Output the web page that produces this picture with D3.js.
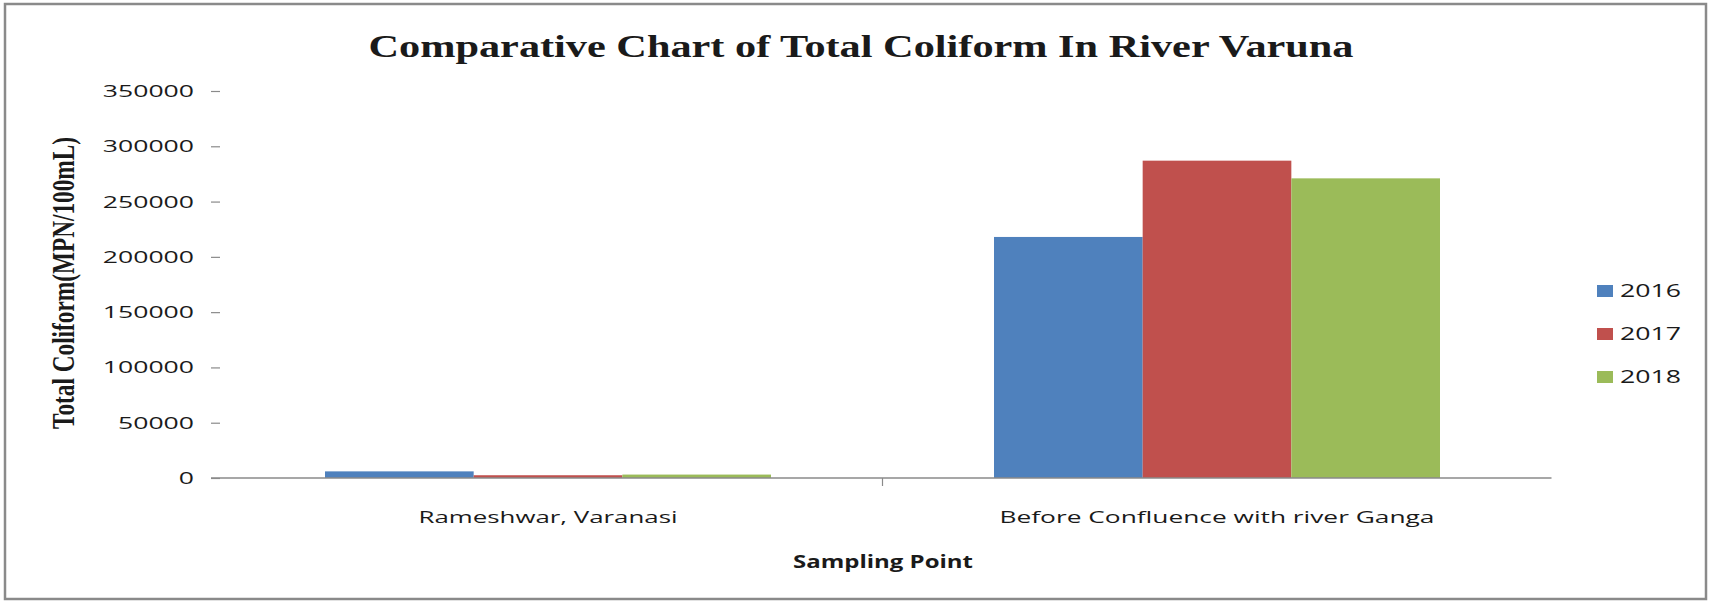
<!DOCTYPE html>
<html>
<head>
<meta charset="utf-8">
<script src="https://cdn.jsdelivr.net/npm/d3@7"></script>
<style>
  body { margin: 0; background: #fff; }
  text { fill: #1a1a1a; }
</style>
</head>
<body>
<div class="chart"></div>
<script>
// data
var categories = ["Rameshwar, Varanasi", "Before Confluence with river Ganga"];
var years = ["2016", "2017", "2018"];
var values2016 = [6000, 218000];
var values2017 = [2500, 287000];
var values2018 = [3100, 271000];
var yTicks = [0, 50000, 100000, 150000, 200000, 250000, 300000, 350000];

var seriesValues = [values2016, values2017, values2018];
var colors = ["#4F81BD", "#C0504D", "#9BBB59"];

var W = 1710, H = 602;

var svg = d3.select(".chart")
    .append("svg")
    .attr("width", W)
    .attr("height", H);

// outer frame
svg.append("rect")
    .attr("x", 5).attr("y", 4)
    .attr("width", W - 9).attr("height", H - 7)
    .attr("fill", "none")
    .attr("stroke", "#8a8a8a")
    .attr("stroke-width", 2.5);

// scales
var x0 = d3.scaleBand()
    .domain(categories)
    .range([213.5, 1551.5]);

var x1 = d3.scaleBand()
    .domain(years)
    .range([0, x0.bandwidth()])
    .paddingInner(0)
    .paddingOuter(0.75);

var y = d3.scaleLinear()
    .domain([0, 350000])
    .range([478, 91]);

// the picture is stretched sideways, so text gets a fixed length
function fit(sel, len) {
    sel.attr("textLength", len).attr("lengthAdjust", "spacingAndGlyphs");
}

// y axis: ticks and labels only, no line
var yAxis = svg.append("g")
    .attr("transform", "translate(220,0)")
    .call(d3.axisLeft(y).tickValues(yTicks).tickSize(9).tickPadding(17).tickFormat(d3.format("d")));
yAxis.select(".domain").remove();
yAxis.selectAll(".tick line").attr("stroke", "#8a8a8a").attr("stroke-width", 1.2);
yAxis.selectAll(".tick text")
    .style("font-family", "'Open Sans', sans-serif")
    .style("font-size", "17px")
    .attr("fill", "#1a1a1a")
    .each(function (d) {
        fit(d3.select(this), String(d).length * 15.2);
    });

// bars
var groups = svg.append("g")
    .selectAll("g")
    .data(categories)
    .enter().append("g")
    .attr("transform", function (d) { return "translate(" + x0(d) + ",0)"; });

groups.selectAll("rect")
    .data(function (d, i) {
        return years.map(function (yr, j) { return { year: yr, value: seriesValues[j][i], c: j }; });
    })
    .enter().append("rect")
    .attr("x", function (d) { return x1(d.year); })
    .attr("y", function (d) { return y(d.value); })
    .attr("width", x1.bandwidth())
    .attr("height", function (d) { return y(0) - y(d.value); })
    .attr("fill", function (d) { return colors[d.c]; });

// x axis line and middle tick
svg.append("line")
    .attr("x1", 211).attr("x2", x0.range()[1])
    .attr("y1", y(0)).attr("y2", y(0))
    .attr("stroke", "#8a8a8a").attr("stroke-width", 1.5);
svg.append("line")
    .attr("x1", x0(categories[1])).attr("x2", x0(categories[1]))
    .attr("y1", y(0)).attr("y2", y(0) + 8)
    .attr("stroke", "#8a8a8a").attr("stroke-width", 1.2);

// category labels
var catWidths = [259, 435];
svg.selectAll(".cat")
    .data(categories)
    .enter().append("text")
    .attr("class", "cat")
    .attr("x", function (d) { return x0(d) + x0.bandwidth() / 2; })
    .attr("y", 523)
    .attr("text-anchor", "middle")
    .style("font-family", "'Open Sans', sans-serif")
    .style("font-size", "17px")
    .text(function (d) { return d; })
    .each(function (d, i) { fit(d3.select(this), catWidths[i]); });

// title
svg.append("text")
    .attr("x", 861).attr("y", 57)
    .attr("text-anchor", "middle")
    .style("font-family", "'Liberation Serif', serif")
    .style("font-weight", "bold")
    .style("font-size", "32px")
    .text("Comparative Chart of  Total Coliform In River Varuna")
    .call(fit, 985);

// axis titles
svg.append("text")
    .attr("transform", "translate(74,283) rotate(-90)")
    .attr("text-anchor", "middle")
    .style("font-family", "'Liberation Serif', serif")
    .style("font-weight", "bold")
    .style("font-size", "31px")
    .text("Total Coliform(MPN/100mL)")
    .call(fit, 292);

svg.append("text")
    .attr("x", 883).attr("y", 568)
    .attr("text-anchor", "middle")
    .style("font-family", "'Open Sans', sans-serif")
    .style("font-weight", "bold")
    .style("font-size", "18px")
    .text("Sampling Point")
    .call(fit, 180);

// legend
var legend = svg.append("g")
    .selectAll("g")
    .data(years)
    .enter().append("g")
    .attr("transform", function (d, i) { return "translate(1597," + (291 + i * 43) + ")"; });
legend.append("rect")
    .attr("x", 0).attr("y", -6)
    .attr("width", 16).attr("height", 12)
    .attr("fill", function (d, i) { return colors[i]; });
legend.append("text")
    .attr("x", 23).attr("y", 0)
    .attr("dy", "0.35em")
    .style("font-family", "'Open Sans', sans-serif")
    .style("font-size", "18px")
    .text(function (d) { return d; })
    .call(fit, 61);
</script>
</body>
</html>
